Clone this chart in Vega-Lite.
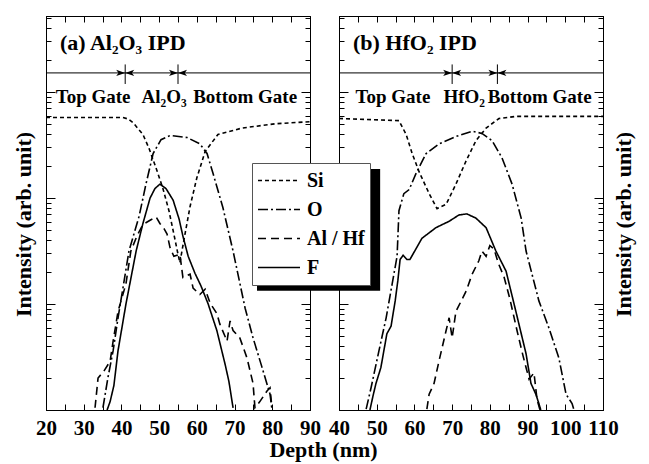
{
  "$schema": "https://vega.github.io/schema/vega-lite/v6.json",
  "autosize": "pad",
  "padding": {"left": 12, "top": 15, "right": 14, "bottom": 5},
  "bounds": "flush",
  "spacing": 29,
  "background": "white",
  "title": {"text": "Depth (nm)", "orient": "bottom", "anchor": "middle", "font": "Liberation Serif", "fontSize": 22, "fontWeight": "bold", "color": "black", "offset": 1},
  "config": {
    "view": {"stroke": "black", "strokeWidth": 1},
    "axis": {"domainColor": "black", "tickColor": "black", "labelColor": "black", "titleColor": "black", "labelFont": "Liberation Serif", "titleFont": "Liberation Serif", "labelFontWeight": "bold", "titleFontWeight": "bold", "labelFontSize": 21, "titleFontSize": 22, "grid": false, "labelFlush": false, "labelOverlap": false, "tickWidth": 1, "domainWidth": 1}
  },
  "datasets": {
    "curves": [
      {"panel": "a", "element": "Si", "depth": 20, "intensity": 575},
      {"panel": "a", "element": "Si", "depth": 40.4, "intensity": 575},
      {"panel": "a", "element": "Si", "depth": 41.8, "intensity": 556},
      {"panel": "a", "element": "Si", "depth": 43.1, "intensity": 513},
      {"panel": "a", "element": "Si", "depth": 45.7, "intensity": 398},
      {"panel": "a", "element": "Si", "depth": 47.3, "intensity": 295},
      {"panel": "a", "element": "Si", "depth": 49.2, "intensity": 191},
      {"panel": "a", "element": "Si", "depth": 51.0, "intensity": 123},
      {"panel": "a", "element": "Si", "depth": 52.6, "intensity": 75.9},
      {"panel": "a", "element": "Si", "depth": 53.9, "intensity": 45.7},
      {"panel": "a", "element": "Si", "depth": 55.0, "intensity": 29.5},
      {"panel": "a", "element": "Si", "depth": 55.5, "intensity": 24.5},
      {"panel": "a", "element": "Si", "depth": 56.6, "intensity": 40.7},
      {"panel": "a", "element": "Si", "depth": 58.2, "intensity": 83.2},
      {"panel": "a", "element": "Si", "depth": 60.0, "intensity": 155},
      {"panel": "a", "element": "Si", "depth": 62.2, "intensity": 275},
      {"panel": "a", "element": "Si", "depth": 65.6, "intensity": 398},
      {"panel": "a", "element": "Si", "depth": 72.0, "intensity": 457},
      {"panel": "a", "element": "Si", "depth": 80.7, "intensity": 501},
      {"panel": "a", "element": "Si", "depth": 90, "intensity": 525},

      {"panel": "a", "element": "O", "depth": 35.1, "intensity": 1.05},
      {"panel": "a", "element": "O", "depth": 36.4, "intensity": 2.0},
      {"panel": "a", "element": "O", "depth": 37.8, "intensity": 3.63},
      {"panel": "a", "element": "O", "depth": 39.1, "intensity": 7.41},
      {"panel": "a", "element": "O", "depth": 40.4, "intensity": 14.1},
      {"panel": "a", "element": "O", "depth": 42.0, "intensity": 31.6},
      {"panel": "a", "element": "O", "depth": 44.7, "intensity": 67.6},
      {"panel": "a", "element": "O", "depth": 46.5, "intensity": 135},
      {"panel": "a", "element": "O", "depth": 48.4, "intensity": 263},
      {"panel": "a", "element": "O", "depth": 50.5, "intensity": 355},
      {"panel": "a", "element": "O", "depth": 52.9, "intensity": 389},
      {"panel": "a", "element": "O", "depth": 57.4, "intensity": 372},
      {"panel": "a", "element": "O", "depth": 60.8, "intensity": 324},
      {"panel": "a", "element": "O", "depth": 62.7, "intensity": 263},
      {"panel": "a", "element": "O", "depth": 64.3, "intensity": 170},
      {"panel": "a", "element": "O", "depth": 66.9, "intensity": 81.3},
      {"panel": "a", "element": "O", "depth": 69.6, "intensity": 31.6},
      {"panel": "a", "element": "O", "depth": 72.8, "intensity": 9.12},
      {"panel": "a", "element": "O", "depth": 74.9, "intensity": 4.79},
      {"panel": "a", "element": "O", "depth": 77.3, "intensity": 2.51},
      {"panel": "a", "element": "O", "depth": 79.4, "intensity": 1.41},
      {"panel": "a", "element": "O", "depth": 79.9, "intensity": 1.02},

      {"panel": "a", "element": "Al / Hf", "depth": 33.0, "intensity": 1.05},
      {"panel": "a", "element": "Al / Hf", "depth": 33.8, "intensity": 2.0},
      {"panel": "a", "element": "Al / Hf", "depth": 35.4, "intensity": 2.34},
      {"panel": "a", "element": "Al / Hf", "depth": 37.0, "intensity": 2.88},
      {"panel": "a", "element": "Al / Hf", "depth": 37.8, "intensity": 4.47},
      {"panel": "a", "element": "Al / Hf", "depth": 39.1, "intensity": 8.51},
      {"panel": "a", "element": "Al / Hf", "depth": 41.2, "intensity": 15.5},
      {"panel": "a", "element": "Al / Hf", "depth": 42.5, "intensity": 31.6},
      {"panel": "a", "element": "Al / Hf", "depth": 44.1, "intensity": 43.7},
      {"panel": "a", "element": "Al / Hf", "depth": 45.7, "intensity": 56.2},
      {"panel": "a", "element": "Al / Hf", "depth": 47.6, "intensity": 61.7},
      {"panel": "a", "element": "Al / Hf", "depth": 49.2, "intensity": 66.1},
      {"panel": "a", "element": "Al / Hf", "depth": 50.2, "intensity": 57.5},
      {"panel": "a", "element": "Al / Hf", "depth": 51.3, "intensity": 51.3},
      {"panel": "a", "element": "Al / Hf", "depth": 52.1, "intensity": 45.7},
      {"panel": "a", "element": "Al / Hf", "depth": 52.9, "intensity": 33.9},
      {"panel": "a", "element": "Al / Hf", "depth": 53.9, "intensity": 28.2},
      {"panel": "a", "element": "Al / Hf", "depth": 55.5, "intensity": 29.5},
      {"panel": "a", "element": "Al / Hf", "depth": 56.3, "intensity": 17.8},
      {"panel": "a", "element": "Al / Hf", "depth": 58.2, "intensity": 19.1},
      {"panel": "a", "element": "Al / Hf", "depth": 59.0, "intensity": 14.1},
      {"panel": "a", "element": "Al / Hf", "depth": 60.8, "intensity": 12.3},
      {"panel": "a", "element": "Al / Hf", "depth": 62.2, "intensity": 13.8},
      {"panel": "a", "element": "Al / Hf", "depth": 63.5, "intensity": 10.2},
      {"panel": "a", "element": "Al / Hf", "depth": 65.3, "intensity": 8.13},
      {"panel": "a", "element": "Al / Hf", "depth": 66.1, "intensity": 6.46},
      {"panel": "a", "element": "Al / Hf", "depth": 68.0, "intensity": 4.47},
      {"panel": "a", "element": "Al / Hf", "depth": 68.8, "intensity": 6.92},
      {"panel": "a", "element": "Al / Hf", "depth": 69.6, "intensity": 5.62},
      {"panel": "a", "element": "Al / Hf", "depth": 71.4, "intensity": 4.79},
      {"panel": "a", "element": "Al / Hf", "depth": 73.3, "intensity": 3.09},
      {"panel": "a", "element": "Al / Hf", "depth": 74.9, "intensity": 1.78},
      {"panel": "a", "element": "Al / Hf", "depth": 75.4, "intensity": 1.05},
      {"panel": "a", "element": "Al / Hf", "depth": 76.7, "intensity": 1.20},
      {"panel": "a", "element": "Al / Hf", "depth": 78.6, "intensity": 1.51},
      {"panel": "a", "element": "Al / Hf", "depth": 79.4, "intensity": 1.62},
      {"panel": "a", "element": "Al / Hf", "depth": 79.9, "intensity": 1.05},

      {"panel": "a", "element": "F", "depth": 36.2, "intensity": 1.0},
      {"panel": "a", "element": "F", "depth": 37.0, "intensity": 1.20},
      {"panel": "a", "element": "F", "depth": 38.0, "intensity": 1.70},
      {"panel": "a", "element": "F", "depth": 39.1, "intensity": 3.63},
      {"panel": "a", "element": "F", "depth": 41.2, "intensity": 10},
      {"panel": "a", "element": "F", "depth": 43.9, "intensity": 31.6},
      {"panel": "a", "element": "F", "depth": 45.7, "intensity": 57.5},
      {"panel": "a", "element": "F", "depth": 47.6, "intensity": 100},
      {"panel": "a", "element": "F", "depth": 48.9, "intensity": 123},
      {"panel": "a", "element": "F", "depth": 50.2, "intensity": 135},
      {"panel": "a", "element": "F", "depth": 51.8, "intensity": 123},
      {"panel": "a", "element": "F", "depth": 53.7, "intensity": 95.5},
      {"panel": "a", "element": "F", "depth": 55.3, "intensity": 63.1},
      {"panel": "a", "element": "F", "depth": 56.3, "intensity": 43.7},
      {"panel": "a", "element": "F", "depth": 57.7, "intensity": 28.2},
      {"panel": "a", "element": "F", "depth": 59.5, "intensity": 19.5},
      {"panel": "a", "element": "F", "depth": 61.1, "intensity": 14.8},
      {"panel": "a", "element": "F", "depth": 63.0, "intensity": 10},
      {"panel": "a", "element": "F", "depth": 65.3, "intensity": 5.62},
      {"panel": "a", "element": "F", "depth": 67.5, "intensity": 2.69},
      {"panel": "a", "element": "F", "depth": 68.5, "intensity": 1.86},
      {"panel": "a", "element": "F", "depth": 69.6, "intensity": 1.05},

      {"panel": "b", "element": "Si", "depth": 40.0, "intensity": 562},
      {"panel": "b", "element": "Si", "depth": 55.9, "intensity": 537},
      {"panel": "b", "element": "Si", "depth": 57.8, "intensity": 398},
      {"panel": "b", "element": "Si", "depth": 59.4, "intensity": 263},
      {"panel": "b", "element": "Si", "depth": 61.2, "intensity": 178},
      {"panel": "b", "element": "Si", "depth": 63.9, "intensity": 110},
      {"panel": "b", "element": "Si", "depth": 66.0, "intensity": 79.4},
      {"panel": "b", "element": "Si", "depth": 68.4, "intensity": 87.1},
      {"panel": "b", "element": "Si", "depth": 71.0, "intensity": 135},
      {"panel": "b", "element": "Si", "depth": 73.7, "intensity": 224},
      {"panel": "b", "element": "Si", "depth": 76.3, "intensity": 347},
      {"panel": "b", "element": "Si", "depth": 79.0, "intensity": 457},
      {"panel": "b", "element": "Si", "depth": 82.4, "intensity": 562},
      {"panel": "b", "element": "Si", "depth": 86.9, "intensity": 589},
      {"panel": "b", "element": "Si", "depth": 110, "intensity": 589},

      {"panel": "b", "element": "O", "depth": 47.2, "intensity": 1.02},
      {"panel": "b", "element": "O", "depth": 48.5, "intensity": 1.62},
      {"panel": "b", "element": "O", "depth": 50.6, "intensity": 3.63},
      {"panel": "b", "element": "O", "depth": 52.5, "intensity": 7.41},
      {"panel": "b", "element": "O", "depth": 54.1, "intensity": 15.5},
      {"panel": "b", "element": "O", "depth": 55.4, "intensity": 28.2},
      {"panel": "b", "element": "O", "depth": 55.9, "intensity": 75.9},
      {"panel": "b", "element": "O", "depth": 57.2, "intensity": 110},
      {"panel": "b", "element": "O", "depth": 58.6, "intensity": 120},
      {"panel": "b", "element": "O", "depth": 60.4, "intensity": 170},
      {"panel": "b", "element": "O", "depth": 63.1, "intensity": 263},
      {"panel": "b", "element": "O", "depth": 66.5, "intensity": 324},
      {"panel": "b", "element": "O", "depth": 71.0, "intensity": 380},
      {"panel": "b", "element": "O", "depth": 75.3, "intensity": 427},
      {"panel": "b", "element": "O", "depth": 77.9, "intensity": 407},
      {"panel": "b", "element": "O", "depth": 80.6, "intensity": 347},
      {"panel": "b", "element": "O", "depth": 83.2, "intensity": 240},
      {"panel": "b", "element": "O", "depth": 85.9, "intensity": 135},
      {"panel": "b", "element": "O", "depth": 88.3, "intensity": 64.6},
      {"panel": "b", "element": "O", "depth": 89.6, "intensity": 31.6},
      {"panel": "b", "element": "O", "depth": 93.0, "intensity": 10.7},
      {"panel": "b", "element": "O", "depth": 95.7, "intensity": 5.89},
      {"panel": "b", "element": "O", "depth": 98.3, "intensity": 3.09},
      {"panel": "b", "element": "O", "depth": 100.2, "intensity": 1.41},
      {"panel": "b", "element": "O", "depth": 101.8, "intensity": 1.15},
      {"panel": "b", "element": "O", "depth": 102.3, "intensity": 1.0},

      {"panel": "b", "element": "F", "depth": 48.2, "intensity": 1.0},
      {"panel": "b", "element": "F", "depth": 49.0, "intensity": 1.35},
      {"panel": "b", "element": "F", "depth": 49.8, "intensity": 1.78},
      {"panel": "b", "element": "F", "depth": 51.1, "intensity": 2.51},
      {"panel": "b", "element": "F", "depth": 52.7, "intensity": 5.25},
      {"panel": "b", "element": "F", "depth": 53.8, "intensity": 6.17},
      {"panel": "b", "element": "F", "depth": 54.9, "intensity": 10.7},
      {"panel": "b", "element": "F", "depth": 55.6, "intensity": 16.6},
      {"panel": "b", "element": "F", "depth": 56.2, "intensity": 26.3},
      {"panel": "b", "element": "F", "depth": 57.0, "intensity": 28.8},
      {"panel": "b", "element": "F", "depth": 58.0, "intensity": 26.3},
      {"panel": "b", "element": "F", "depth": 58.8, "intensity": 26.3},
      {"panel": "b", "element": "F", "depth": 60.4, "intensity": 33.1},
      {"panel": "b", "element": "F", "depth": 62.0, "intensity": 41.7},
      {"panel": "b", "element": "F", "depth": 65.7, "intensity": 52.5},
      {"panel": "b", "element": "F", "depth": 69.2, "intensity": 60.3},
      {"panel": "b", "element": "F", "depth": 71.8, "intensity": 69.2},
      {"panel": "b", "element": "F", "depth": 73.9, "intensity": 70.8},
      {"panel": "b", "element": "F", "depth": 76.3, "intensity": 64.6},
      {"panel": "b", "element": "F", "depth": 79.0, "intensity": 52.5},
      {"panel": "b", "element": "F", "depth": 81.6, "intensity": 31.6},
      {"panel": "b", "element": "F", "depth": 84.3, "intensity": 20.4},
      {"panel": "b", "element": "F", "depth": 86.9, "intensity": 8.51},
      {"panel": "b", "element": "F", "depth": 89.6, "intensity": 3.39},
      {"panel": "b", "element": "F", "depth": 90.9, "intensity": 1.78},
      {"panel": "b", "element": "F", "depth": 92.2, "intensity": 1.41},
      {"panel": "b", "element": "F", "depth": 93.0, "intensity": 1.15},
      {"panel": "b", "element": "F", "depth": 93.5, "intensity": 1.0},

      {"panel": "b", "element": "Al / Hf", "depth": 63.3, "intensity": 1.02},
      {"panel": "b", "element": "Al / Hf", "depth": 63.9, "intensity": 1.41},
      {"panel": "b", "element": "Al / Hf", "depth": 65.2, "intensity": 1.78},
      {"panel": "b", "element": "Al / Hf", "depth": 66.5, "intensity": 2.88},
      {"panel": "b", "element": "Al / Hf", "depth": 68.4, "intensity": 5.62},
      {"panel": "b", "element": "Al / Hf", "depth": 69.2, "intensity": 7.41},
      {"panel": "b", "element": "Al / Hf", "depth": 70.0, "intensity": 4.79},
      {"panel": "b", "element": "Al / Hf", "depth": 71.0, "intensity": 8.51},
      {"panel": "b", "element": "Al / Hf", "depth": 73.7, "intensity": 13.2},
      {"panel": "b", "element": "Al / Hf", "depth": 75.3, "intensity": 19.1},
      {"panel": "b", "element": "Al / Hf", "depth": 77.1, "intensity": 25.7},
      {"panel": "b", "element": "Al / Hf", "depth": 77.9, "intensity": 31.6},
      {"panel": "b", "element": "Al / Hf", "depth": 79.0, "intensity": 28.2},
      {"panel": "b", "element": "Al / Hf", "depth": 80.0, "intensity": 35.5},
      {"panel": "b", "element": "Al / Hf", "depth": 81.1, "intensity": 33.1},
      {"panel": "b", "element": "Al / Hf", "depth": 82.2, "intensity": 24.5},
      {"panel": "b", "element": "Al / Hf", "depth": 83.8, "intensity": 17.8},
      {"panel": "b", "element": "Al / Hf", "depth": 85.3, "intensity": 11.2},
      {"panel": "b", "element": "Al / Hf", "depth": 87.2, "intensity": 5.62},
      {"panel": "b", "element": "Al / Hf", "depth": 88.8, "intensity": 3.24},
      {"panel": "b", "element": "Al / Hf", "depth": 90.4, "intensity": 1.95},
      {"panel": "b", "element": "Al / Hf", "depth": 91.7, "intensity": 2.24},
      {"panel": "b", "element": "Al / Hf", "depth": 92.5, "intensity": 1.26},
      {"panel": "b", "element": "Al / Hf", "depth": 93.3, "intensity": 1.0}
    ],
    "boundaries": [
      {"panel": "a", "depth": 41},
      {"panel": "a", "depth": 55},
      {"panel": "b", "depth": 70},
      {"panel": "b", "depth": 82}
    ],
    "arrows": [
      {"panel": "a", "depth": 41, "direction": "right"},
      {"panel": "a", "depth": 41, "direction": "left"},
      {"panel": "a", "depth": 55, "direction": "right"},
      {"panel": "a", "depth": 55, "direction": "left"},
      {"panel": "b", "depth": 70, "direction": "right"},
      {"panel": "b", "depth": 70, "direction": "left"},
      {"panel": "b", "depth": 82, "direction": "right"},
      {"panel": "b", "depth": 82, "direction": "left"}
    ],
    "labels": [
      {"panel": "a", "kind": "title", "depth": 23.7, "intensity": 2890, "text": "(a) Al₂O₃ IPD"},
      {"panel": "b", "kind": "title", "depth": 43.7, "intensity": 2890, "text": "(b) HfO₂ IPD"},
      {"panel": "a", "kind": "region", "depth": 32.5, "intensity": 891, "text": "Top Gate"},
      {"panel": "a", "kind": "region", "depth": 51.3, "intensity": 891, "text": "Al₂O₃"},
      {"panel": "a", "kind": "region", "depth": 72.8, "intensity": 891, "text": "Bottom Gate"},
      {"panel": "b", "kind": "region", "depth": 54.3, "intensity": 891, "text": "Top Gate"},
      {"panel": "b", "kind": "region", "depth": 73.2, "intensity": 891, "text": "HfO₂"},
      {"panel": "b", "kind": "region", "depth": 93.2, "intensity": 891, "text": "Bottom Gate"}
    ],
    "shadow": [
      {"x1": 75.95, "x2": 108.6, "y1": 13.3, "y2": 188}
    ]
  },
  "hconcat": [
    {
      "width": 264,
      "height": 394,
      "layer": [
        {
          "data": {"name": "shadow"},
          "mark": {"type": "rect", "fill": "black", "clip": false},
          "encoding": {
            "x": {"field": "x1", "type": "quantitative", "scale": {"domain": [20, 90], "nice": false, "zero": false}, "axis": null},
            "x2": {"field": "x2"},
            "y": {"field": "y1", "type": "quantitative", "scale": {"type": "log", "domain": [1, 5212], "nice": false}, "axis": null},
            "y2": {"field": "y2"}
          }
        },
        {
          "data": {"name": "curves"},
          "transform": [{"filter": "datum.panel === 'a'"}],
          "mark": {"type": "line", "color": "black", "strokeWidth": 1.6, "clip": true},
          "encoding": {
            "x": {"field": "depth", "type": "quantitative", "scale": {"domain": [20, 90], "nice": false, "zero": false},
              "axis": {"orient": "bottom", "title": null, "values": [20,25,30,35,40,45,50,55,60,65,70,75,80,85,90], "labelExpr": "datum.value % 10 === 0 ? datum.label : ''", "tickSize": -6, "labelPadding": 13}},
            "y": {"field": "intensity", "type": "quantitative", "scale": {"type": "log", "domain": [1, 5212], "nice": false},
              "axis": {"orient": "left", "title": "Intensity (arb. unit)", "titlePadding": 10, "titleY": 208, "labels": false,
                "values": [1,2,3,4,5,6,7,8,9,10,20,30,40,50,60,70,80,90,100,200,300,400,500,600,700,800,900,1000,2000,3000,4000,5000],
                "tickSize": {"condition": {"test": "datum.value === 1 || datum.value === 10 || datum.value === 100 || datum.value === 1000", "value": -9}, "value": -5}}},
            "strokeDash": {"field": "element", "type": "nominal",
              "scale": {"domain": ["Si", "O", "Al / Hf", "F"], "range": [[4, 3], [10, 3, 2, 3], [8, 5], [1, 0]]},
              "legend": {"title": null, "orient": "none", "legendX": 206, "legendY": 147, "zindex": 1,
                "symbolType": "stroke", "symbolSize": 1764, "symbolStrokeWidth": 1.5, "symbolStrokeColor": "black",
                "labelFont": "Liberation Serif", "labelFontSize": 20, "labelFontWeight": "bold", "labelColor": "black",
                "labelOffset": 6, "padding": 5, "clipHeight": 25, "rowPadding": 4, "strokeColor": "#555", "fillColor": "white", "labelLimit": 200}}
          }
        },
        {
          "data": {"name": "boundaries"},
          "transform": [{"filter": "datum.panel === 'a'"}],
          "mark": {"type": "rule", "color": "black", "strokeWidth": 1},
          "encoding": {
            "x": {"field": "depth", "type": "quantitative", "scale": {"domain": [20, 90], "nice": false, "zero": false},
              "axis": {"orient": "top", "title": null, "labels": false, "values": [20,25,30,35,40,45,50,55,60,65,70,75,80,85,90], "tickSize": -6}},
            "y": {"datum": 1190, "type": "quantitative", "scale": {"type": "log", "domain": [1, 5212], "nice": false},
              "axis": {"orient": "right", "title": null, "labels": false,
                "values": [1,2,3,4,5,6,7,8,9,10,20,30,40,50,60,70,80,90,100,200,300,400,500,600,700,800,900,1000,2000,3000,4000,5000],
                "tickSize": {"condition": {"test": "datum.value === 1 || datum.value === 10 || datum.value === 100 || datum.value === 1000", "value": -9}, "value": -5}}},
            "y2": {"datum": 1820}
          }
        },
        {
          "data": {"values": [{}]},
          "mark": {"type": "rule", "color": "black", "strokeWidth": 1},
          "encoding": {
            "y": {"datum": 1514, "type": "quantitative", "scale": {"type": "log", "domain": [1, 5212], "nice": false}, "axis": null}
          }
        },
        {
          "data": {"name": "arrows"},
          "transform": [{"filter": "datum.panel === 'a'"}],
          "mark": {"type": "point", "filled": true, "color": "black", "size": 324, "opacity": 1},
          "encoding": {
            "x": {"field": "depth", "type": "quantitative", "scale": {"domain": [20, 90], "nice": false, "zero": false}, "axis": null},
            "y": {"datum": 1514, "type": "quantitative", "scale": {"type": "log", "domain": [1, 5212], "nice": false}, "axis": null},
            "shape": {"field": "direction", "type": "nominal", "scale": {"domain": ["right", "left"], "range": ["M0,0L-1,-0.35L-0.75,0L-1,0.35Z", "M0,0L1,-0.35L0.75,0L1,0.35Z"]}, "legend": null}
          }
        },
        {
          "data": {"name": "labels"},
          "transform": [{"filter": "datum.panel === 'a' && datum.kind === 'title'"}],
          "mark": {"type": "text", "align": "left", "baseline": "middle", "font": "Liberation Serif", "fontSize": 22, "fontWeight": "bold", "color": "black"},
          "encoding": {
            "x": {"field": "depth", "type": "quantitative", "scale": {"domain": [20, 90], "nice": false, "zero": false}, "axis": null},
            "y": {"field": "intensity", "type": "quantitative", "scale": {"type": "log", "domain": [1, 5212], "nice": false}, "axis": null},
            "text": {"field": "text"}
          }
        },
        {
          "data": {"name": "labels"},
          "transform": [{"filter": "datum.panel === 'a' && datum.kind === 'region'"}],
          "mark": {"type": "text", "align": "center", "baseline": "middle", "font": "Liberation Serif", "fontSize": 19, "fontWeight": "bold", "color": "black"},
          "encoding": {
            "x": {"field": "depth", "type": "quantitative", "scale": {"domain": [20, 90], "nice": false, "zero": false}, "axis": null},
            "y": {"field": "intensity", "type": "quantitative", "scale": {"type": "log", "domain": [1, 5212], "nice": false}, "axis": null},
            "text": {"field": "text"}
          }
        }
      ]
    },
    {
      "width": 264,
      "height": 394,
      "layer": [
        {
          "data": {"name": "curves"},
          "transform": [{"filter": "datum.panel === 'b'"}],
          "mark": {"type": "line", "color": "black", "strokeWidth": 1.6, "clip": true},
          "encoding": {
            "x": {"field": "depth", "type": "quantitative", "scale": {"domain": [40, 110], "nice": false, "zero": false},
              "axis": {"orient": "bottom", "title": null, "values": [40,45,50,55,60,65,70,75,80,85,90,95,100,105,110], "labelExpr": "datum.value % 10 === 0 ? datum.label : ''", "tickSize": -6, "labelPadding": 13}},
            "y": {"field": "intensity", "type": "quantitative", "scale": {"type": "log", "domain": [1, 5212], "nice": false},
              "axis": {"orient": "left", "title": null, "labels": false,
                "values": [1,2,3,4,5,6,7,8,9,10,20,30,40,50,60,70,80,90,100,200,300,400,500,600,700,800,900,1000,2000,3000,4000,5000],
                "tickSize": {"condition": {"test": "datum.value === 1 || datum.value === 10 || datum.value === 100 || datum.value === 1000", "value": -9}, "value": -5}}},
            "strokeDash": {"field": "element", "type": "nominal",
              "scale": {"domain": ["Si", "O", "Al / Hf", "F"], "range": [[4, 3], [10, 3, 2, 3], [8, 5], [1, 0]]}}
          }
        },
        {
          "data": {"name": "boundaries"},
          "transform": [{"filter": "datum.panel === 'b'"}],
          "mark": {"type": "rule", "color": "black", "strokeWidth": 1},
          "encoding": {
            "x": {"field": "depth", "type": "quantitative", "scale": {"domain": [40, 110], "nice": false, "zero": false},
              "axis": {"orient": "top", "title": null, "labels": false, "values": [40,45,50,55,60,65,70,75,80,85,90,95,100,105,110], "tickSize": -6}},
            "y": {"datum": 1190, "type": "quantitative", "scale": {"type": "log", "domain": [1, 5212], "nice": false},
              "axis": {"orient": "right", "title": "Intensity (arb. unit)", "titleAngle": 270, "titleBaseline": "top", "titlePadding": 10, "titleY": 208, "labels": false,
                "values": [1,2,3,4,5,6,7,8,9,10,20,30,40,50,60,70,80,90,100,200,300,400,500,600,700,800,900,1000,2000,3000,4000,5000],
                "tickSize": {"condition": {"test": "datum.value === 1 || datum.value === 10 || datum.value === 100 || datum.value === 1000", "value": -9}, "value": -5}}},
            "y2": {"datum": 1820}
          }
        },
        {
          "data": {"values": [{}]},
          "mark": {"type": "rule", "color": "black", "strokeWidth": 1},
          "encoding": {
            "y": {"datum": 1514, "type": "quantitative", "scale": {"type": "log", "domain": [1, 5212], "nice": false}, "axis": null}
          }
        },
        {
          "data": {"name": "arrows"},
          "transform": [{"filter": "datum.panel === 'b'"}],
          "mark": {"type": "point", "filled": true, "color": "black", "size": 324, "opacity": 1},
          "encoding": {
            "x": {"field": "depth", "type": "quantitative", "scale": {"domain": [40, 110], "nice": false, "zero": false}, "axis": null},
            "y": {"datum": 1514, "type": "quantitative", "scale": {"type": "log", "domain": [1, 5212], "nice": false}, "axis": null},
            "shape": {"field": "direction", "type": "nominal", "scale": {"domain": ["right", "left"], "range": ["M0,0L-1,-0.35L-0.75,0L-1,0.35Z", "M0,0L1,-0.35L0.75,0L1,0.35Z"]}, "legend": null}
          }
        },
        {
          "data": {"name": "labels"},
          "transform": [{"filter": "datum.panel === 'b' && datum.kind === 'title'"}],
          "mark": {"type": "text", "align": "left", "baseline": "middle", "font": "Liberation Serif", "fontSize": 22, "fontWeight": "bold", "color": "black"},
          "encoding": {
            "x": {"field": "depth", "type": "quantitative", "scale": {"domain": [40, 110], "nice": false, "zero": false}, "axis": null},
            "y": {"field": "intensity", "type": "quantitative", "scale": {"type": "log", "domain": [1, 5212], "nice": false}, "axis": null},
            "text": {"field": "text"}
          }
        },
        {
          "data": {"name": "labels"},
          "transform": [{"filter": "datum.panel === 'b' && datum.kind === 'region'"}],
          "mark": {"type": "text", "align": "center", "baseline": "middle", "font": "Liberation Serif", "fontSize": 19, "fontWeight": "bold", "color": "black"},
          "encoding": {
            "x": {"field": "depth", "type": "quantitative", "scale": {"domain": [40, 110], "nice": false, "zero": false}, "axis": null},
            "y": {"field": "intensity", "type": "quantitative", "scale": {"type": "log", "domain": [1, 5212], "nice": false}, "axis": null},
            "text": {"field": "text"}
          }
        }
      ]
    }
  ]
}
